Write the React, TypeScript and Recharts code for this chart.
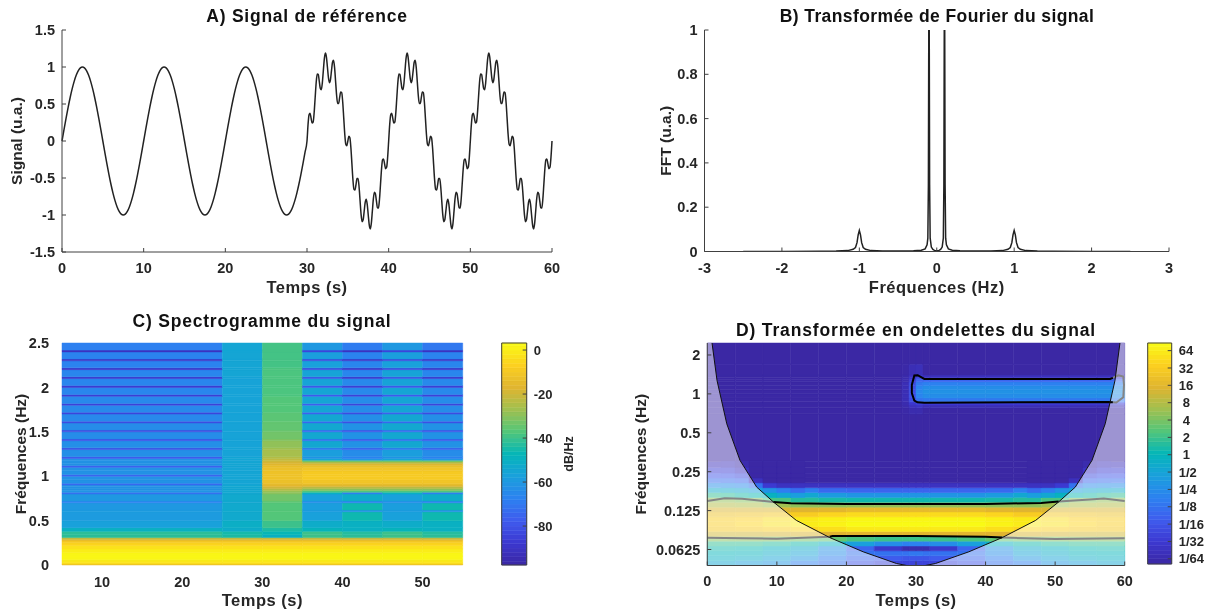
// App.tsx - signal, FFT, spectrogram and wavelet panels
import {
  Area,
  ComposedChart,
  Line,
  ReferenceArea,
  XAxis,
  YAxis,
} from 'recharts';

const FONT = '"Liberation Sans", Arial, sans-serif';
const INK = '#262626';
const FRAME = '#404040';

// A) signal: pure sine sampled every 0.25 s up to 30 s, then the mixed part every 0.125 s
const cleanStep = 0.25;
const cleanValues = [
  0, .156, .309, .454, .588, .707, .809, .891, .951, .988, 1, .988, .951, .891, .809, .707, .588, .454, .309, .156,
  0, -.156, -.309, -.454, -.588, -.707, -.809, -.891, -.951, -.988, -1, -.988, -.951, -.891, -.809, -.707, -.588, -.454, -.309, -.156,
  0, .156, .309, .454, .588, .707, .809, .891, .951, .988, 1, .988, .951, .891, .809, .707, .588, .454, .309, .156,
  0, -.156, -.309, -.454, -.588, -.707, -.809, -.891, -.951, -.988, -1, -.988, -.951, -.891, -.809, -.707, -.588, -.454, -.309, -.156,
  0, .156, .309, .454, .588, .707, .809, .891, .951, .988, 1, .988, .951, .891, .809, .707, .588, .454, .309, .156,
  0, -.156, -.309, -.454, -.588, -.707, -.809, -.891, -.951, -.988, -1, -.988, -.951, -.891, -.809, -.707, -.588, -.454, -.309, -.156,
];
const mixedStep = 0.125;
const mixedValues = [
  0, .219, .356, .374, .309, .242, .254, .381, .588, .79, .907, .901, .809, .712, .691, .783, .951, 1.113, 1.188, 1.138,
  1, .856, .788, .831, .951, 1.065, 1.091, .994, .809, .619, .507, .508, .588, .663, .654, .524, .309, .092, -.044, -.063,
  0, .063, .044, -.092, -.309, -.524, -.654, -.663, -.588, -.508, -.507, -.619, -.809, -.994, -1.091, -1.065, -.951, -.831, -.788, -.856,
  -1, -1.138, -1.188, -1.113, -.951, -.783, -.691, -.712, -.809, -.901, -.907, -.79, -.588, -.381, -.254, -.242, -.309, -.374, -.356, -.219,
  0, .219, .356, .374, .309, .242, .254, .381, .588, .79, .907, .901, .809, .712, .691, .783, .951, 1.113, 1.188, 1.138,
  1, .856, .788, .831, .951, 1.065, 1.091, .994, .809, .619, .507, .508, .588, .663, .654, .524, .309, .092, -.044, -.063,
  0, .063, .044, -.092, -.309, -.524, -.654, -.663, -.588, -.508, -.507, -.619, -.809, -.994, -1.091, -1.065, -.951, -.831, -.788, -.856,
  -1, -1.138, -1.188, -1.113, -.951, -.783, -.691, -.712, -.809, -.901, -.907, -.79, -.588, -.381, -.254, -.242, -.309, -.374, -.356, -.219,
  0, .219, .356, .374, .309, .242, .254, .381, .588, .79, .907, .901, .809, .712, .691, .783, .951, 1.113, 1.188, 1.138,
  1, .856, .788, .831, .951, 1.065, 1.091, .994, .809, .619, .507, .508, .588, .663, .654, .524, .309, .092, -.044, -.063,
  0, .063, .044, -.092, -.309, -.524, -.654, -.663, -.588, -.508, -.507, -.619, -.809, -.994, -1.091, -1.065, -.951, -.831, -.788, -.856,
  -1, -1.138, -1.188, -1.113, -.951, -.783, -.691, -.712, -.809, -.901, -.907, -.79, -.588, -.381, -.254, -.242, -.309, -.374, -.356, -.219,
  0,
];
const signalData = [
  ...cleanValues.map((v, i) => ({ t: i * cleanStep, v })),
  ...mixedValues.map((v, i) => ({ t: 30 + i * mixedStep, v })),
];
const timeTicks = [0, 10, 20, 30, 40, 50, 60];
const signalTicks = [-1.5, -1, -0.5, 0, 0.5, 1, 1.5];

// B) spectrum
const fftFreqs = [
  -2.5, -2, -1.5, -1.3, -1.15, -1.08, -1.05, -1.03, -1.015, -1, -.985, -.97, -.95, -.92, -.85, -.7, -.5, -.3, -.2, -.15, -.125,
  -.115, -.108, -.103, -.1, -.097, -.092, -.085, -.07, -.05, -.03, 0,
  .03, .05, .07, .085, .092, .097, .1, .103, .108, .115,
  .125, .15, .2, .3, .5, .7, .85, .92, .95, .97, .985, 1, 1.015, 1.03, 1.05, 1.08, 1.15, 1.3, 1.5, 2, 2.5,
];
const fftValues = [
  0, .0003, .001, .002, .004, .01, .018, .04, .075, .095, .075, .04, .018, .01, .004, .002, .002, .003, .006, .012, .03,
  .06, .3, 1, 4, 1, .3, .06, .02, .009, .005, .003,
  .005, .009, .02, .06, .3, 1, 4, 1, .3, .06,
  .03, .012, .006, .003, .002, .002, .004, .01, .018, .04, .075, .095, .075, .04, .018, .01, .004, .002, .001, .0003, 0,
];
const fftData = fftFreqs.map((f, i) => ({ f, v: fftValues[i] }));
const fftFreqTicks = [-3, -2, -1, 0, 1, 2, 3];
const fftValueTicks = [0, 0.2, 0.4, 0.6, 0.8, 1];

// C) spectrogram in dB/Hz: one row per frequency band, one column per time band
const specTimeEdges = [5, 25, 30, 35, 40, 45, 50, 55];
const specFreqEdges = [
  0, .01, .03, .06, .1, .14, .18, .22, .25, .27, .29, .31, .34, .38, .42, .5, .6, .62, .7, .72, .8, .82, .84, .86, .88, .9,
  .92, .96, 1, 1.02, 1.06, 1.1, 1.12, 1.14, 1.16, 1.18, 1.2, 1.22, 1.3, 1.32, 1.4, 1.42, 1.5, 1.52, 1.6, 1.62, 1.7, 1.72,
  1.8, 1.82, 1.9, 1.92, 2, 2.02, 2.1, 2.12, 2.2, 2.22, 2.3, 2.32, 2.4, 2.42, 2.5,
];
const specRows = [
  [-14, -14, -14, -14, -14, -14, -14],
  [-4, -4, -4, -4, -4, -4, -4],
  [-1, -1, -1, -1, -1, -1, -1],
  [2, 2, 2, 2, 2, 2, 2],
  [2, 2, 2, 2, 2, 2, 2],
  [0, 0, 0, 0, 0, 0, 0],
  [-3, -3, -3, -3, -3, -3, -3],
  [-6, -6, -6, -6, -6, -6, -6],
  [-9, -9, -9, -9, -9, -9, -9],
  [-14, -14, -14, -14, -14, -14, -14],
  [-22, -22, -22, -22, -22, -22, -22],
  [-42, -44, -50, -40, -42, -40, -42],
  [-42, -45, -47, -40, -43, -40, -43],
  [-50, -52, -44, -48, -50, -48, -50],
  [-57, -51, -40, -52, -50, -52, -50],
  [-59, -53, -37, -57, -46, -57, -46],
  [-59, -53, -37, -59, -62, -59, -62],
  [-60, -53, -37, -58, -46, -58, -46],
  [-68, -54, -36, -64, -68, -64, -68],
  [-60, -53, -33, -57, -52, -57, -52],
  [-72, -54, -30, -50, -68, -50, -68],
  [-61, -54, -28, -38, -38, -38, -38],
  [-62, -54, -24, -30, -30, -30, -30],
  [-62, -54, -20, -24, -24, -24, -24],
  [-62, -54, -17, -18, -18, -18, -18],
  [-74, -55, -15, -14, -14, -14, -14],
  [-62, -55, -13, -11, -11, -11, -11],
  [-62, -55, -12, -9, -9, -9, -9],
  [-75, -55, -12, -9, -9, -9, -9],
  [-62, -55, -12, -9, -9, -9, -9],
  [-62, -55, -13, -11, -11, -11, -11],
  [-76, -55, -14, -13, -13, -13, -13],
  [-62, -55, -16, -16, -16, -16, -16],
  [-62, -55, -18, -22, -22, -22, -22],
  [-62, -55, -20, -33, -33, -33, -33],
  [-62, -55, -22, -55, -60, -55, -60],
  [-78, -55, -24, -62, -68, -62, -68],
  [-63, -56, -26, -58, -64, -58, -64],
  [-80, -56, -27, -70, -76, -70, -76],
  [-63, -56, -29, -54, -62, -54, -62],
  [-80, -56, -31, -72, -78, -72, -78],
  [-64, -56, -33, -54, -62, -54, -62],
  [-82, -56, -34, -74, -80, -74, -80],
  [-64, -56, -35, -54, -62, -54, -62],
  [-82, -56, -35, -74, -81, -74, -81],
  [-65, -56, -36, -54, -63, -54, -63],
  [-84, -56, -36, -76, -82, -76, -82],
  [-65, -56, -37, -55, -64, -55, -64],
  [-85, -56, -37, -77, -84, -77, -84],
  [-65, -56, -37, -55, -64, -55, -64],
  [-86, -56, -38, -78, -85, -78, -85],
  [-66, -56, -38, -55, -65, -55, -65],
  [-87, -56, -38, -79, -86, -79, -86],
  [-66, -56, -38, -56, -65, -56, -65],
  [-88, -56, -38, -80, -88, -80, -88],
  [-66, -55, -38, -56, -66, -56, -66],
  [-89, -55, -38, -82, -89, -82, -89],
  [-67, -55, -39, -57, -66, -57, -66],
  [-90, -55, -39, -83, -90, -83, -90],
  [-67, -55, -39, -58, -67, -58, -67],
  [-91, -55, -39, -84, -91, -84, -91],
  [-68, -55, -39, -60, -69, -60, -70],
];
const specFreqTicks = [0, 0.5, 1, 1.5, 2, 2.5];
const specTimeTicks = [10, 20, 30, 40, 50];
const DB_MIN = -97.7;
const DB_MAX = 3.2;
const dbTicks = [-80, -60, -40, -20, 0];
const dbLevels = [
  -97.7, -96, -94, -92, -90, -88, -86, -84, -82, -80, -78, -76, -74, -72, -70, -68, -66, -64, -62, -60, -58, -56, -54, -52, -50, -48,
  -46, -44, -42, -40, -38, -36, -34, -32, -30, -28, -26, -24, -22, -20, -18, -16, -14, -12, -10, -8, -6, -4, -2, 0, 2, 3.2,
];

// D) wavelet magnitude, log2 of the colour scale
const cwtTimeEdges = [0, 4, 8, 12, 16, 20, 24, 28, 29, 30, 31, 32, 36, 40, 44, 48, 52, 56, 60];
const cwtFreqEdges = [
  .047, .0513, .0559, .061, .0665, .0725, .079, .0862, .094, .1025, .1118, .1219, .1329, .145, .1581, .1724, .188, .205,
  .2236, .2438, .27, .3, .7, .78, .82, .85, .87, .93, 1, 1.08, 1.16, 1.24, 1.3, 1.34, 1.4, 1.7, 2.476,
];
const cwtRows = [
  [-.8, -1.2, -1.6, -2.5, -3, -4, -4.5, -4.6, -4.6, -4.6, -4.6, -4.5, -4, -3, -2.5, -1.6, -1.2, -.8],
  [-.3, -.5, -1, -1.6, -2.6, -3.4, -3.8, -4, -4, -4, -4, -3.8, -3.4, -2.6, -1.6, -1, -.5, -.3],
  [0, -.1, -.5, -1, -2, -3, -3, -3, -2.8, -2.8, -3, -3, -3, -2, -1, -.5, -.1, 0],
  [.3, .2, -.2, -.6, -1.8, -3.5, -5.2, -6, -6, -6, -6, -5.2, -3.5, -1.8, -.6, -.2, .2, .3],
  [.8, .8, .6, .3, -.3, -1.2, -2, -2.5, -2.5, -2.5, -2.5, -2, -1.2, -.3, .3, .6, .8, .8],
  [2.2, 2.2, 2.1, 1.9, 1.6, 1.2, 1, 1, 1, 1, 1, 1, 1.2, 1.6, 1.9, 2.1, 2.2, 2.2],
  [3.6, 3.6, 3.7, 3.8, 3.9, 4, 4, 4, 4, 4, 4, 4, 4, 3.9, 3.8, 3.7, 3.6, 3.6],
  [4.8, 4.9, 5.1, 5.3, 5.6, 5.9, 5.9, 5.9, 5.9, 5.9, 5.9, 5.9, 5.9, 5.6, 5.3, 5.1, 4.9, 4.8],
  [5, 5.3, 5.7, 6, 6.2, 6.4, 6.4, 6.4, 6.4, 6.4, 6.4, 6.4, 6.4, 6.2, 6, 5.7, 5.3, 5],
  [5, 5.2, 5.6, 5.9, 6.1, 6.3, 6.3, 6.3, 6.3, 6.3, 6.3, 6.3, 6.3, 6.1, 5.9, 5.6, 5.2, 5],
  [4.5, 4.6, 4.8, 5, 5.3, 5.5, 5.5, 5.5, 5.5, 5.5, 5.5, 5.5, 5.5, 5.3, 5, 4.8, 4.6, 4.5],
  [3.8, 3.8, 3.8, 3.9, 4, 4.2, 4.2, 4.2, 4.2, 4.2, 4.2, 4.2, 4.2, 4, 3.9, 3.8, 3.8, 3.8],
  [3, 2.9, 2.6, 2.3, 2.3, 2.4, 2.4, 2.4, 2.4, 2.4, 2.4, 2.4, 2.4, 2.3, 2.3, 2.6, 2.9, 3],
  [2.4, 2.2, 1.2, .6, .4, .3, .3, .3, .3, .3, .3, .3, .3, .4, .6, 1.2, 2.2, 2.4],
  [.8, .6, 0, -.8, -1.4, -1.7, -1.7, -1.7, -1.7, -1.7, -1.7, -1.7, -1.7, -1.4, -.8, 0, .6, .8],
  [-.6, -.8, -1.6, -2.6, -3.3, -3.5, -3.5, -3.5, -3.5, -3.5, -3.5, -3.5, -3.5, -3.3, -2.6, -1.6, -.8, -.6],
  [-2, -2.2, -5, -5.5, -5.5, -5.5, -5.5, -5.5, -5.5, -5.5, -5.5, -5.5, -5.5, -5.5, -5.5, -5, -2.2, -2],
  [-3.2, -3.6, -6.3, -6.3, -6.3, -6.3, -6.3, -6.3, -6.3, -6.3, -6.3, -6.3, -6.3, -6.3, -6.3, -6.3, -3.6, -3.2],
  [-4, -4.5, -6.3, -6.3, -6.3, -6.3, -6.3, -6.3, -6.3, -6.3, -6.3, -6.3, -6.3, -6.3, -6.3, -6.3, -4.5, -4],
  [-4.8, -5.5, -6.3, -6.3, -6.3, -6.3, -6.3, -6.3, -6.3, -6.3, -6.3, -6.3, -6.3, -6.3, -6.3, -6.3, -5.5, -4.8],
  [-5.6, -6.2, -6.3, -6.3, -6.3, -6.3, -6.3, -6.3, -6.3, -6.3, -6.3, -6.3, -6.3, -6.3, -6.3, -6.3, -6.2, -5.6],
  [-6.3, -6.3, -6.3, -6.3, -6.3, -6.3, -6.3, -6.3, -6.3, -6.3, -6.3, -6.3, -6.3, -6.3, -6.3, -6.3, -6.3, -6.3],
  [-6.3, -6.3, -6.3, -6.3, -6.3, -6.3, -6.3, -6.2, -6, -6, -6.3, -6.3, -6.3, -6.3, -6.3, -6.3, -6.3, -6.3],
  [-6.3, -6.3, -6.3, -6.3, -6.3, -6.3, -6.3, -6.1, -5.6, -5.4, -5.8, -5.8, -5.8, -5.8, -5.8, -5.8, -5.8, -5.8],
  [-6.3, -6.3, -6.3, -6.3, -6.3, -6.3, -6.3, -6, -5.2, -4.8, -5, -5, -5, -5, -5, -5, -5, -5],
  [-6.3, -6.3, -6.3, -6.3, -6.3, -6.3, -6.3, -6, -4.8, -4, -3.8, -3.8, -3.8, -3.8, -3.8, -3.8, -3.8, -3.8],
  [-6.3, -6.3, -6.3, -6.3, -6.3, -6.3, -6.3, -5.8, -4.4, -3, -2.8, -2.8, -2.8, -2.8, -2.8, -2.8, -2.8, -2.8],
  [-6.3, -6.3, -6.3, -6.3, -6.3, -6.3, -6.3, -5.8, -4.2, -2.4, -2, -2, -2, -2, -2, -2, -2, -2],
  [-6.3, -6.3, -6.3, -6.3, -6.3, -6.3, -6.3, -5.8, -4.2, -2.2, -1.8, -1.8, -1.8, -1.8, -1.8, -1.8, -1.8, -1.8],
  [-6.3, -6.3, -6.3, -6.3, -6.3, -6.3, -6.3, -5.8, -4.2, -2.4, -2, -2, -2, -2, -2, -2, -2, -2],
  [-6.3, -6.3, -6.3, -6.3, -6.3, -6.3, -6.3, -5.8, -4.4, -2.8, -2.5, -2.5, -2.5, -2.5, -2.5, -2.5, -2.5, -2.5],
  [-6.3, -6.3, -6.3, -6.3, -6.3, -6.3, -6.3, -6, -4.8, -3.4, -3.4, -3.4, -3.4, -3.4, -3.4, -3.4, -3.4, -3.4],
  [-6.3, -6.3, -6.3, -6.3, -6.3, -6.3, -6.3, -6, -5.2, -4, -4.6, -4.6, -4.6, -4.6, -4.6, -4.6, -4.6, -4.6],
  [-6.3, -6.3, -6.3, -6.3, -6.3, -6.3, -6.3, -6.1, -5.5, -5, -5.6, -5.6, -5.6, -5.6, -5.6, -5.6, -5.6, -5.6],
  [-6.3, -6.3, -6.3, -6.3, -6.3, -6.3, -6.3, -6.2, -5.8, -5.7, -6.3, -6.3, -6.3, -6.3, -6.3, -6.3, -6.3, -6.3],
  [-6.3, -6.3, -6.3, -6.3, -6.3, -6.3, -6.3, -6.3, -6.3, -6.3, -6.3, -6.3, -6.3, -6.3, -6.3, -6.3, -6.3, -6.3],
];
// finer cells along both flanks of the cone, for the rows that fade into the dark area
const flankFreqEdges = [.1581, .1724, .188, .205, .2236, .2438, .27, .3];
const flankLeftEdges = [2, 4, 6, 8, 10, 12, 14];
const flankRightEdges = [46, 48, 50, 52, 54, 56, 58];
const flankLeftRows = [
  [.7, .4, .2, -.2, -.8, -1.3],
  [-.6, -.8, -1.2, -1.8, -2.6, -3.2],
  [-2, -2.2, -3, -5, -5.5, -5.5],
  [-3.2, -3.4, -5.6, -6.3, -6.3, -6.3],
  [-4, -4.4, -6.3, -6.3, -6.3, -6.3],
  [-4.8, -5.4, -6.3, -6.3, -6.3, -6.3],
  [-5.6, -6, -6.3, -6.3, -6.3, -6.3],
];
const flankRightRows = [
  [-1.3, -.8, -.2, .2, .4, .7],
  [-3.2, -2.6, -1.8, -1.2, -.8, -.6],
  [-5.5, -5.5, -5, -3, -2.2, -2],
  [-6.3, -6.3, -6.3, -5.6, -3.4, -3.2],
  [-6.3, -6.3, -6.3, -6.3, -4.4, -4],
  [-6.3, -6.3, -6.3, -6.3, -5.4, -4.8],
  [-6.3, -6.3, -6.3, -6.3, -6, -5.6],
];
const cwtFreqTicks = [0.0625, 0.125, 0.25, 0.5, 1, 2];
const LOG_MIN = -6.3;
const LOG_MAX = 6.44;
const logTicks = [-6, -5, -4, -3, -2, -1, 0, 1, 2, 3, 4, 5, 6];
const logTickLabels = ['1/64', '1/32', '1/16', '1/8', '1/4', '1/2', '1', '2', '4', '8', '16', '32', '64'];
const logLevels = [
  -6.3, -6, -5.75, -5.5, -5.25, -5, -4.75, -4.5, -4.25, -4, -3.75, -3.5, -3.25, -3, -2.75, -2.5, -2.25, -2, -1.75, -1.5, -1.25, -1, -.75, -.5, -.25, 0,
  .25, .5, .75, 1, 1.25, 1.5, 1.75, 2, 2.25, 2.5, 2.75, 3, 3.25, 3.5, 3.75, 4, 4.25, 4.5, 4.75, 5, 5.25, 5.5, 5.75, 6, 6.25, 6.44,
];

// cone of influence and contours of D; contours turn grey outside the cone
const coiTimes = [0, .67, 1.4, 2.8, 4.7, 7.1, 9.5, 12.8, 17.6, 22.4, 27.2, 30, 32.8, 37.6, 42.4, 47.2, 50.5, 52.9, 55.3, 57.2, 58.6, 59.33, 60];
const coiFreqs = [20, 2.5, 1.268, .587, .306, .19, .1458, .105, .0773, .06, .0487, .0455, .0487, .06, .0773, .105, .1458, .19, .306, .587, 1.268, 2.5, 20];
const coiData = coiTimes.map((t, i) => ({ t, f: coiFreqs[i] }));

const contourInsideT = [
  [9.5, 12, 20, 30, 40, 48, 50.5],
  [17.6, 18, 30, 40, 42.4],
  [58.3, 57.6, 31.2, 30.2, 29.76, 29.4, 29.4, 29.76, 30.24, 31.2, 57.9, 58.3],
];
const contourInsideF = [
  [.1458, .1424, .1408, .1408, .1408, .1433, .1467],
  [.0785, .0796, .0796, .0785, .0773],
  [.862, .867, .853, .86, .888, 1.013, 1.174, 1.39, 1.394, 1.306, 1.306, 1.33],
];
const contourOutsideT = [
  [0, 2.5, 5, 9.5],
  [50.5, 55, 57, 60],
  [0, 5, 10, 17.6],
  [42.4, 50, 60],
  [58.3, 59.1, 59.8, 59.9, 59.8, 58.8, 58.3],
];
const contourOutsideF = [
  [.1484, .156, .1542, .1458],
  [.1467, .1524, .1551, .1484],
  [.077, .0764, .0758, .0785],
  [.0773, .0753, .0764],
  [1.33, 1.394, 1.36, 1.174, .943, .858, .862],
];
const zipContour = (ts: number[], fs: number[]) => ts.map((t, i) => ({ t, f: fs[i] }));

// parula-like colour scale, stops
const colorStops = [
  [0, 0x3b, 0x28, 0xa4], [.1, 0x3c, 0x38, 0xd0], [.2, 0x3f, 0x5c, 0xee], [.3, 0x2c, 0x82, 0xf0], [.4, 0x1a, 0xa0, 0xdc],
  [.5, 0x04, 0xb6, 0xb8], [.6, 0x52, 0xc6, 0x7a], [.7, 0xa0, 0xc0, 0x50], [.8, 0xe0, 0xb5, 0x30], [.9, 0xfc, 0xd0, 0x20], [1, 0xf9, 0xfb, 0x15],
];
function parula(frac: number) {
  const x = Math.min(1, Math.max(0, frac));
  const i = Math.min(colorStops.length - 2, Math.floor(x * 10));
  const a = colorStops[i];
  const b = colorStops[i + 1];
  const k = (x - a[0]) / (b[0] - a[0]);
  const mix = (c: number) => Math.round(a[c] + (b[c] - a[c]) * k);
  return `rgb(${mix(1)},${mix(2)},${mix(3)})`;
}
const dbColor = (v: number) => parula((v - DB_MIN) / (DB_MAX - DB_MIN));
const logColor = (v: number) => parula((v - LOG_MIN) / (LOG_MAX - LOG_MIN));

const tickStyle = { fontSize: 14.5, fontWeight: 700, fill: INK, fontFamily: FONT };
const labelStyle = { fontSize: 15.5, fontWeight: 700, fill: INK, fontFamily: FONT };
const xLabelStyle = { ...labelStyle, fontSize: 16.5, letterSpacing: 0.5 };

function cells(rows: number[][], xs: number[], ys: number[], color: (v: number) => string, prefix = 'c') {
  return rows.flatMap((row, r) =>
    row.map((v, c) => (
      <ReferenceArea
        key={`${prefix}${r}-${c}`}
        x1={xs[c]}
        x2={xs[c + 1]}
        y1={ys[r]}
        y2={ys[r + 1]}
        fill={color(v)}
        fillOpacity={1}
        stroke={color(v)}
        strokeWidth={0.5}
        ifOverflow="visible"
      />
    )),
  );
}

function colorbarCells(levels: number[], color: (v: number) => string) {
  return levels.slice(0, -1).map((v, i) => (
    <ReferenceArea
      key={v}
      x1={0}
      x2={1}
      y1={v}
      y2={levels[i + 1]}
      fill={color((v + levels[i + 1]) / 2)}
      fillOpacity={1}
      stroke={color((v + levels[i + 1]) / 2)}
      strokeWidth={0.5}
      ifOverflow="visible"
    />
  ));
}

function Title({ x, y, text, spacing }: { x: number; y: number; text: string; spacing: number }) {
  return (
    <div
      style={{
        position: 'absolute',
        left: x,
        top: y,
        transform: 'translate(-50%, -50%)',
        font: `700 17.5px ${FONT}`,
        letterSpacing: spacing,
        color: '#111',
        whiteSpace: 'nowrap',
      }}
    >
      {text}
    </div>
  );
}

function Panel({ left, top, children }: { left: number; top: number; children: React.ReactNode }) {
  return <div style={{ position: 'absolute', left, top }}>{children}</div>;
}

// single digits of the wavelet colour bar sit in the middle of the two-digit column
function LogTick({ x, y, payload }: { x: number; y: number; payload: { value: number } }) {
  const text = logTickLabels[logTicks.indexOf(payload.value)];
  return (
    <text x={x + (text.length === 1 ? 4 : 0)} y={y} dy="0.35em" textAnchor="start" style={{ ...tickStyle, fontSize: 13 }}>
      {text}
    </text>
  );
}

const barData = [{ x: 0 }, { x: 1 }];
const specAxisData = specTimeEdges.map((t) => ({ t }));

export default function App() {
  return (
    <div style={{ position: 'absolute', left: 0, top: 0, width: 1208, height: 610, background: '#fff', overflow: 'hidden', filter: 'blur(0.4px)' }}>
      <Title x={307} y={16} text="A) Signal de référence" spacing={0.75} />
      <Title x={937} y={16} text="B) Transformée de Fourier du signal" spacing={0.4} />
      <Title x={262} y={321} text="C) Spectrogramme du signal" spacing={0.8} />
      <Title x={916} y={330} text="D) Transformée en ondelettes du signal" spacing={0.85} />

      {/* A */}
      <Panel left={0} top={0}>
        <ComposedChart width={600} height={300} data={signalData} margin={{ top: 30, right: 48, left: 0, bottom: 0 }}>
          <XAxis dataKey="t" type="number" domain={[0, 60]} ticks={timeTicks} interval={0} height={48} stroke={FRAME} tick={tickStyle} tickSize={-4} tickMargin={15}
            label={{ value: 'Temps (s)', position: 'insideBottom', offset: 7, style: xLabelStyle }} />
          <XAxis xAxisId="top" orientation="top" type="number" domain={[0, 60]} ticks={timeTicks} interval={0} height={0} stroke={FRAME} tick={false} tickSize={-4} />
          <YAxis type="number" domain={[-1.5, 1.5]} ticks={signalTicks} interval={0} width={62} stroke={FRAME} tick={tickStyle} tickSize={-4} tickMargin={11}
            label={{ value: 'Signal (u.a.)', angle: -90, position: 'center', dx: -15, style: labelStyle }} />
          <YAxis yAxisId="right" orientation="right" type="number" domain={[-1.5, 1.5]} ticks={signalTicks} interval={0} width={0} stroke={FRAME} tick={false} tickSize={-4} />
          <Line dataKey="v" type="monotone" stroke="#222" strokeWidth={1.5} dot={false} isAnimationActive={false} />
        </ComposedChart>
      </Panel>

      {/* B */}
      <Panel left={640} top={0}>
        <ComposedChart width={560} height={300} data={fftData} margin={{ top: 30, right: 31, left: 0, bottom: 0 }}>
          <XAxis dataKey="f" type="number" domain={[-3, 3]} ticks={fftFreqTicks} interval={0} height={48.5} stroke={FRAME} tick={tickStyle} tickSize={-4} tickMargin={15}
            label={{ value: 'Fréquences (Hz)', position: 'insideBottom', offset: 7, style: xLabelStyle }} />
          <XAxis xAxisId="top" orientation="top" type="number" domain={[-3, 3]} ticks={fftFreqTicks} interval={0} height={0} stroke={FRAME} tick={false} tickSize={-4} />
          <YAxis type="number" domain={[0, 1]} allowDataOverflow ticks={fftValueTicks} interval={0} width={64.5} stroke={FRAME} tick={tickStyle} tickSize={-4} tickMargin={11}
            label={{ value: 'FFT (u.a.)', angle: -90, position: 'center', dx: -7, style: labelStyle }} />
          <YAxis yAxisId="right" orientation="right" type="number" domain={[0, 1]} ticks={fftValueTicks} interval={0} width={0} stroke={FRAME} tick={false} tickSize={-4} />
          <Line dataKey="v" type="linear" stroke="#222" strokeWidth={1.5} dot={false} isAnimationActive={false} />
        </ComposedChart>
      </Panel>

      {/* C */}
      <Panel left={0} top={305}>
        <ComposedChart width={480} height={305} data={specAxisData} margin={{ top: 38, right: 17.3, left: 0, bottom: 0 }}>
          <XAxis type="number" dataKey="t" domain={[5, 55]} allowDataOverflow ticks={specTimeTicks} interval={0} height={45} axisLine={false} tickLine={false} tick={tickStyle} tickMargin={6}
            label={{ value: 'Temps (s)', position: 'insideBottom', offset: 4, style: xLabelStyle }} />
          <YAxis type="number" domain={[0, 2.5]} allowDataOverflow ticks={specFreqTicks} interval={0} width={62} axisLine={false} tickLine={false} tick={tickStyle} tickMargin={7}
            label={{ value: 'Fréquences (Hz)', angle: -90, position: 'center', dx: -11, style: labelStyle }} />
          {cells(specRows, specTimeEdges, specFreqEdges, dbColor)}
        </ComposedChart>
      </Panel>

      {/* colour bar of C */}
      <Panel left={480} top={305}>
        <ComposedChart width={110} height={305} data={barData} margin={{ top: 38, right: 0, left: 21.7, bottom: 45 }}>
          <XAxis type="number" dataKey="x" domain={[0, 1]} allowDataOverflow hide />
          <YAxis orientation="right" type="number" domain={[DB_MIN, DB_MAX]} allowDataOverflow ticks={dbTicks} interval={0} width={63.3} axisLine={false} stroke={FRAME} tick={{ ...tickStyle, fontSize: 13 }} tickSize={-4} tickMargin={11}
            label={{ value: 'dB/Hz', angle: -90, position: 'center', dx: 10, style: { ...labelStyle, fontSize: 12.5 } }} />
          {colorbarCells(dbLevels, dbColor)}
          <ReferenceArea x1={0} x2={1} y1={DB_MIN} y2={DB_MAX} fill="none" stroke={FRAME} strokeWidth={1} ifOverflow="visible" isFront />
        </ComposedChart>
      </Panel>

      {/* D */}
      <Panel left={620} top={305}>
        <ComposedChart width={520} height={305} data={coiData} margin={{ top: 38, right: 15.3, left: 0, bottom: 0 }}>
          <XAxis dataKey="t" type="number" domain={[0, 60]} ticks={timeTicks} interval={0} height={44.5} stroke={FRAME} tick={tickStyle} tickSize={-4} tickMargin={14}
            label={{ value: 'Temps (s)', position: 'insideBottom', offset: 4, style: xLabelStyle }} />
          <XAxis xAxisId="top" orientation="top" type="number" domain={[0, 60]} ticks={timeTicks} interval={0} height={0} stroke={FRAME} tick={false} tickSize={-4} />
          <YAxis type="number" scale="log" domain={[0.047, 2.476]} allowDataOverflow ticks={cwtFreqTicks} interval={0} width={87.3} stroke={FRAME} tick={tickStyle} tickSize={-4} tickMargin={11}
            label={{ value: 'Fréquences (Hz)', angle: -90, position: 'center', dx: -23, style: labelStyle }} />
          <YAxis yAxisId="right" orientation="right" type="number" scale="log" domain={[0.047, 2.476]} allowDataOverflow ticks={cwtFreqTicks} interval={0} width={0} stroke={FRAME} tick={false} tickSize={-4} />
          {cells(cwtRows, cwtTimeEdges, cwtFreqEdges, logColor)}
          {cells(flankLeftRows, flankLeftEdges, flankFreqEdges, logColor, 'l')}
          {cells(flankRightRows, flankRightEdges, flankFreqEdges, logColor, 'r')}
          <Area dataKey={(d: { f: number }) => [0.04, d.f]} type="linear" stroke="none" fill="#fff" fillOpacity={0.5} isAnimationActive={false} />
          {contourOutsideT.map((ts, i) => (
            <Line key={`out${i}`} data={zipContour(ts, contourOutsideF[i])} dataKey="f" type="linear" stroke="#858585" strokeWidth={2} dot={false} isAnimationActive={false} />
          ))}
          {contourInsideT.map((ts, i) => (
            <Line key={`in${i}`} data={zipContour(ts, contourInsideF[i])} dataKey="f" type="linear" stroke="#000" strokeWidth={2} dot={false} isAnimationActive={false} />
          ))}
          <Line dataKey="f" type="linear" stroke="#111" strokeWidth={1} dot={false} isAnimationActive={false} />
        </ComposedChart>
      </Panel>

      {/* colour bar of D */}
      <Panel left={1130} top={305}>
        <ComposedChart width={78} height={305} data={barData} margin={{ top: 38, right: 0, left: 17.7, bottom: 46 }}>
          <XAxis type="number" dataKey="x" domain={[0, 1]} allowDataOverflow hide />
          <YAxis orientation="right" type="number" domain={[LOG_MIN, LOG_MAX]} allowDataOverflow ticks={logTicks} interval={0} width={36.3} axisLine={false} stroke={FRAME}
            tick={LogTick} tickSize={-4} tickMargin={11} />
          {colorbarCells(logLevels, logColor)}
          <ReferenceArea x1={0} x2={1} y1={LOG_MIN} y2={LOG_MAX} fill="none" stroke={FRAME} strokeWidth={1} ifOverflow="visible" isFront />
        </ComposedChart>
      </Panel>
    </div>
  );
}
